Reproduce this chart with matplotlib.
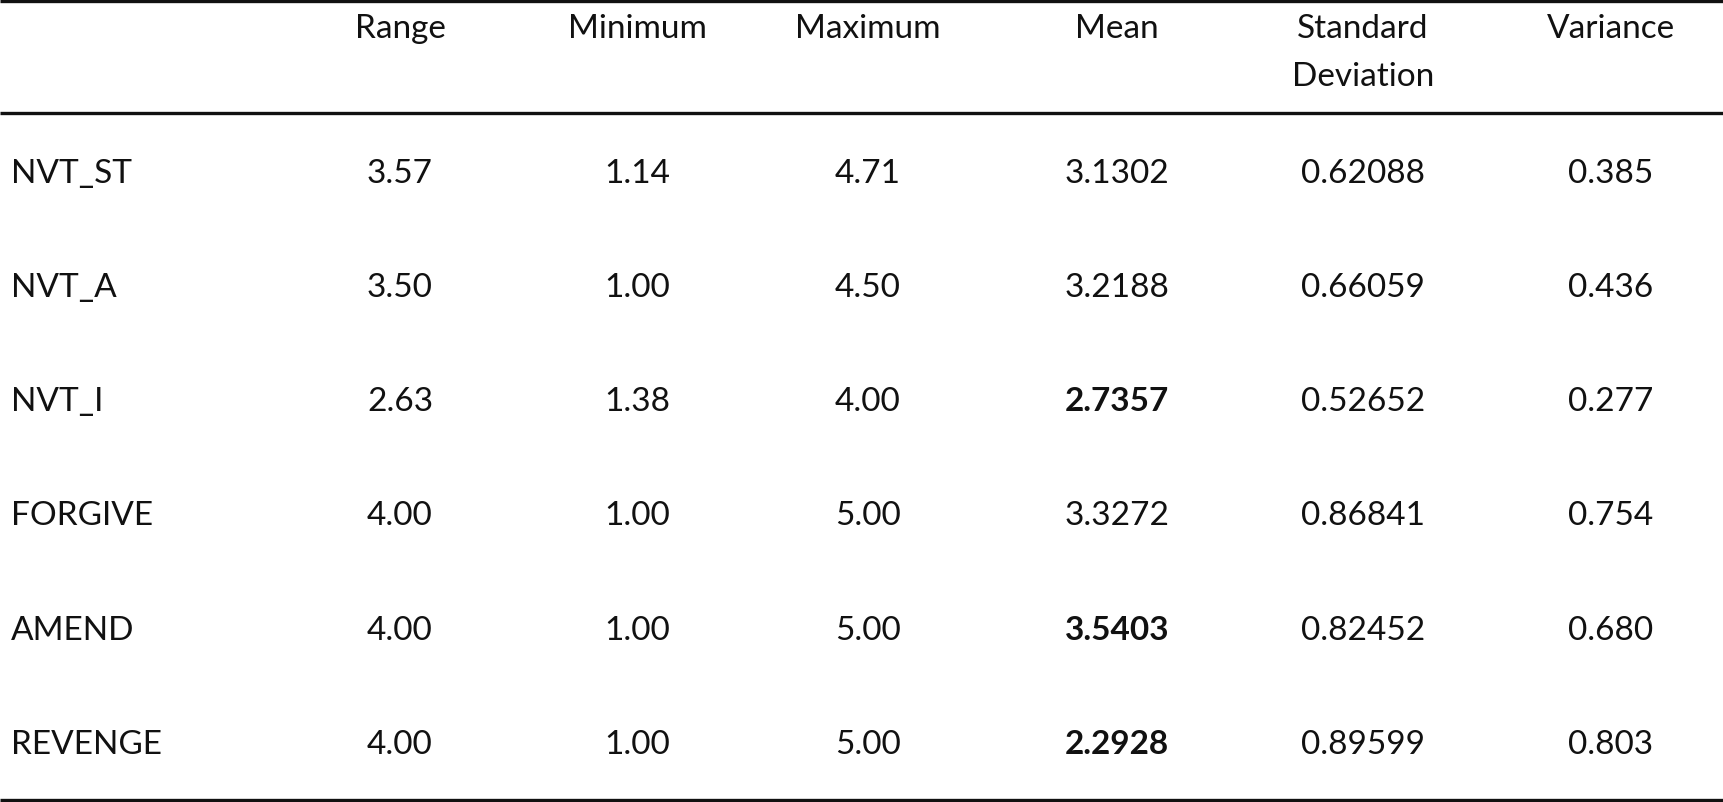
import matplotlib.pyplot as plt

# table contents
columns = ['Range', 'Minimum', 'Maximum', 'Mean', 'Standard\nDeviation', 'Variance']
variables = ['NVT_ST', 'NVT_A', 'NVT_I', 'FORGIVE', 'AMEND', 'REVENGE']
range_vals = ['3.57', '3.50', '2.63', '4.00', '4.00', '4.00']
min_vals = ['1.14', '1.00', '1.38', '1.00', '1.00', '1.00']
max_vals = ['4.71', '4.50', '4.00', '5.00', '5.00', '5.00']
mean_vals = ['3.1302', '3.2188', '2.7357', '3.3272', '3.5403', '2.2928']
sd_vals = ['0.62088', '0.66059', '0.52652', '0.86841', '0.82452', '0.89599']
var_vals = ['0.385', '0.436', '0.277', '0.754', '0.680', '0.803']
bold_mean = [False, False, True, False, True, True]

plt.rcParams['font.family'] = ['Lato', 'DejaVu Sans']

W, H = 1723, 803
fig = plt.figure(figsize=(W / 100, H / 100), dpi=100)
ax = fig.add_axes([0, 0, 1, 1])
ax.set_xlim(0, W)
ax.set_ylim(H, 0)
ax.axis('off')

col_x = [400, 637, 868, 1117, 1363, 1611]
row_y = [174, 288, 402, 516, 631, 745]
fs = 24

# rules
for y in (2, 114, 801):
    ax.plot([0, W], [y, y], color='#111111', lw=2.4, solid_capstyle='butt')

# header
for x, name in zip(col_x, columns):
    ax.text(x, 14, name, ha='center', va='top', fontsize=fs, linespacing=1.75,
            color='#111111')

columns_data = [range_vals, min_vals, max_vals, mean_vals, sd_vals, var_vals]
for i, (label, y) in enumerate(zip(variables, row_y)):
    ax.text(11, y, label, ha='left', va='center', fontsize=fs, color='#111111')
    for j, (x, col) in enumerate(zip(col_x, columns_data)):
        weight = 'bold' if (j == 3 and bold_mean[i]) else 'normal'
        ax.text(x, y, col[i], ha='center', va='center', fontsize=fs,
                fontweight=weight, color='#111111')

fig.savefig('out.png', dpi=100)
